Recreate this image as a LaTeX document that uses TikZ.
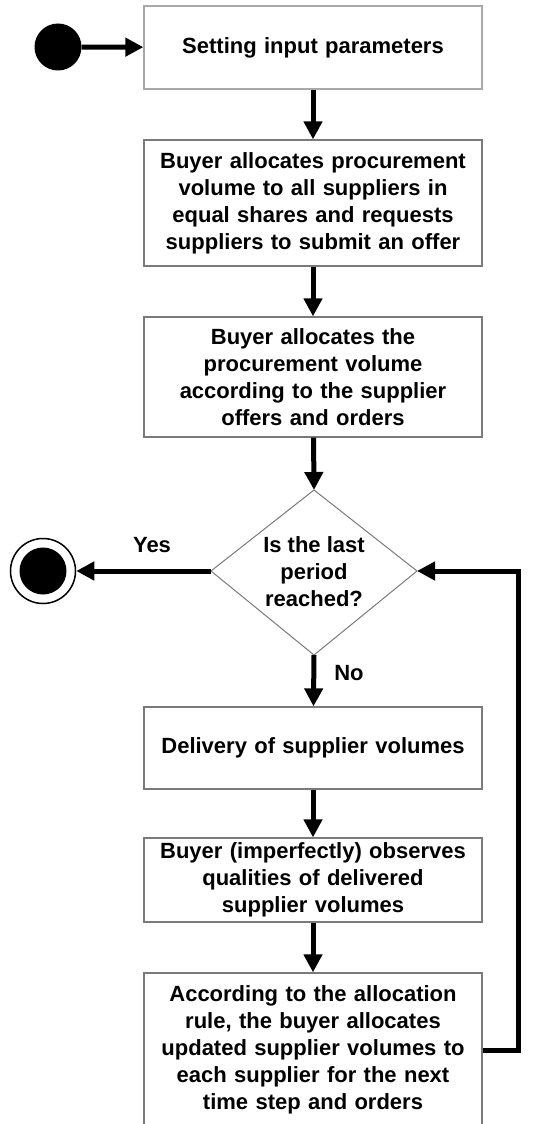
\documentclass[tikz,border=0pt]{standalone}
\usepackage{fontspec}
\setmainfont{Liberation Sans}
\usetikzlibrary{arrows.meta}
\definecolor{boxgray}{HTML}{7A7A7A}
\definecolor{lightboxgray}{HTML}{A8A8A8}
\begin{document}
\begin{tikzpicture}[x=1pt,y=-1pt,
  txt/.style={font=\fontsize{22}{27}\selectfont\bfseries, align=center},
  proc/.style={txt, draw=boxgray, line width=1.3pt, fill=white, inner sep=0pt,
    text width=324pt, minimum width=338pt},
  flow/.style={line width=5pt, -{Triangle[length=18pt,width=18pt]}},
  dia/.style={draw=boxgray, line width=1pt}]
\useasboundingbox (0,0) rectangle (535,1124);
\clip (0,0) rectangle (535,1124);
% start
\node[circle, fill=black, minimum size=47pt, inner sep=0pt] (start) at (58,47) {};
% boxes
\node[proc, draw=lightboxgray, minimum height=83pt] (b1) at (313,47.5) {Setting input parameters};
\node[proc, minimum height=126pt] (b2) at (313,203) {Buyer allocates procurement\\volume to all suppliers in\\equal shares and requests\\suppliers to submit an offer};
\node[proc, minimum height=120pt] (b3) at (313,377) {Buyer allocates the\\procurement volume\\according to the supplier\\offers and orders};
% decision
\node[txt] (dec) at (314,572) {Is the last\\period\\reached?};
\coordinate (decT) at (314,490);
\coordinate (decB) at (314,655);
\coordinate (decL) at (211,571);
\coordinate (decR) at (417,571);
\draw[dia] (decT) -- (decR) -- (decB) -- (decL) -- cycle;
% end
\node[circle, draw=black, line width=1.5pt, fill=white, minimum size=65pt, inner sep=0pt] (endo) at (43,571) {};
\node[circle, fill=black, minimum size=47pt, inner sep=0pt] (endi) at (43,571) {};
% lower boxes
\node[proc, minimum height=82pt] (b4) at (313,748) {Delivery of supplier volumes};
\node[proc, minimum height=84pt] (b5) at (313,880) {Buyer (imperfectly) observes\\qualities of delivered\\supplier volumes};
\node[proc, minimum height=154pt] (b6) at (313,1050) {According to the allocation\\rule, the buyer allocates\\updated supplier volumes to\\each supplier for the next\\time step and orders};
% labels
\node[txt] (yes) at (152,545) {Yes};
\node[txt] (no) at (349,673) {No};
% connectors
\draw[flow] (start) -- (b1);
\draw[flow] (b1) -- (b2);
\draw[flow] (b2) -- (b3);
\draw[flow] (b3) -- (decT);
\draw[flow] (decL) -- (endo);
\draw[flow] (decB) -- (b4);
\draw[flow] (b4) -- (b5);
\draw[flow] (b5) -- (b6);
\draw[flow] (b6.east) -- ++(36,0) |- (decR);
\end{tikzpicture}
\end{document}
